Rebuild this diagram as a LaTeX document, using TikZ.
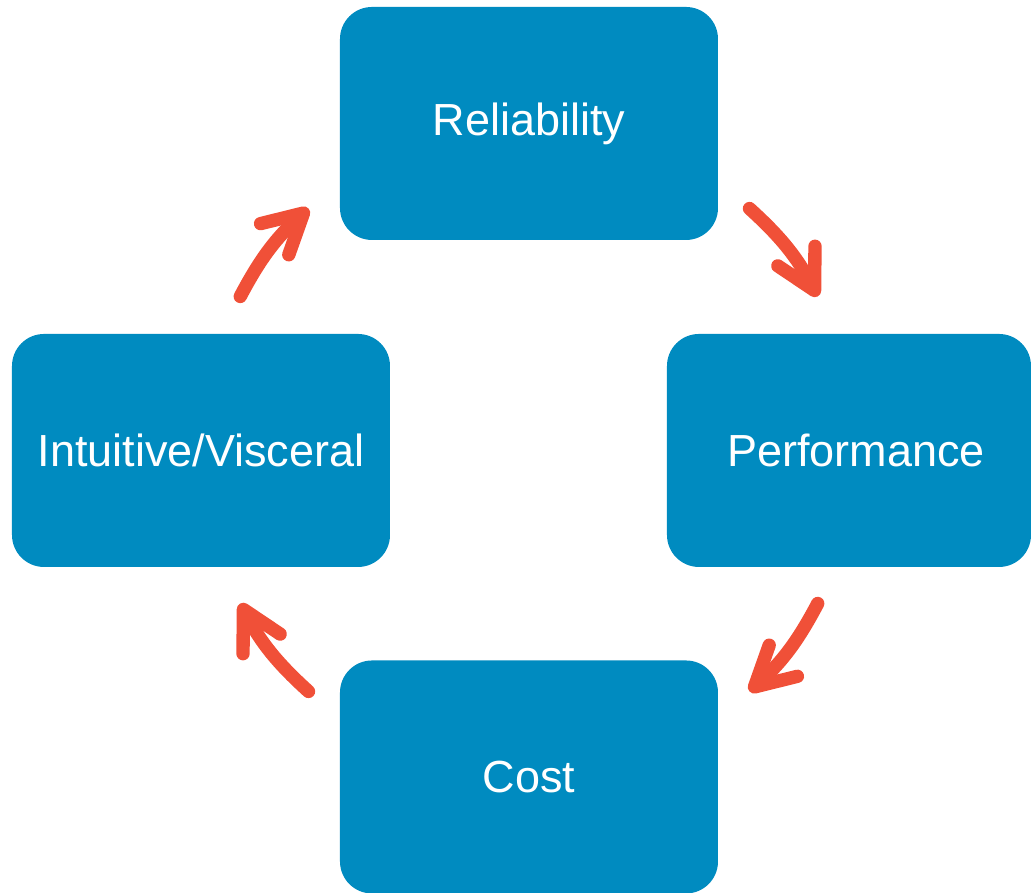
\documentclass[tikz,border=0pt]{standalone}
\usepackage{fontspec}
\setmainfont{Liberation Sans}
\usetikzlibrary{arrows.meta}
\definecolor{blu}{RGB}{0,139,192}
\definecolor{rosso}{RGB}{240,80,56}
\begin{document}
\begin{tikzpicture}[
    blocco/.style={rectangle, rounded corners=3.2mm, fill=blu, text=white,
        minimum width=3.78cm, minimum height=2.33cm, inner sep=0pt,
        font=\fontsize{12.8}{15}\selectfont},
    freccia/.style={-{Straight Barb[round, length=3.9mm, width=4.2mm]},
        line width=3.8pt, line cap=round, rosso}
]
    % Area del disegno
    \useasboundingbox (0,0) rectangle (10.32,8.93);

    % Disegna i blocchi
    \node[blocco] (rel) at (5.29,7.695) {Reliability};
    \node[blocco, minimum width=3.64cm] (perf) at (8.49,4.425) {\hspace{1.4mm}Performance};
    \node[blocco] (cost) at (5.29,1.16) {Cost};
    \node[blocco] (intu) at (2.01,4.425) {Intuitive/Visceral};

    % Estremi delle frecce, sul cerchio attorno al centro
    \coordinate (c) at (5.29,4.43);
    \coordinate (a1) at ([shift={(47.6:3.27)}]c);
    \coordinate (b1) at ([shift={(28:3.27)}]c);
    \coordinate (a2) at ([shift={(-28:3.27)}]c);
    \coordinate (b2) at ([shift={(-47.6:3.27)}]c);
    \coordinate (a3) at ([shift={(227.6:3.27)}]c);
    \coordinate (b3) at ([shift={(208:3.27)}]c);
    \coordinate (a4) at ([shift={(152:3.27)}]c);
    \coordinate (b4) at ([shift={(132.4:3.27)}]c);

    % Disegna le frecce del ciclo
    \draw[freccia] (a1) to[bend left=10] (b1);
    \draw[freccia] (a2) to[bend left=10] (b2);
    \draw[freccia] (a3) to[bend left=10] (b3);
    \draw[freccia] (a4) to[bend left=10] (b4);
\end{tikzpicture}
\end{document}
